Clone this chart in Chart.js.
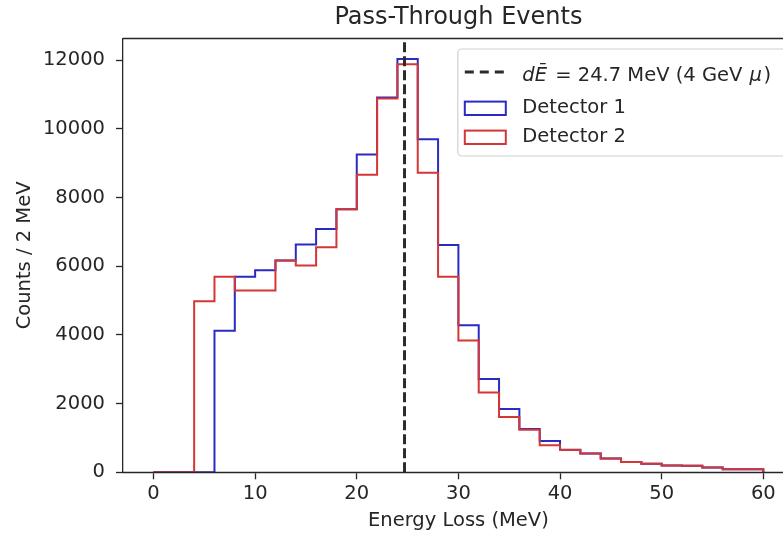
<!DOCTYPE html>
<html>
<head>
<meta charset="utf-8">
<script src="https://cdn.jsdelivr.net/npm/chart.js@4.4.0/dist/chart.umd.min.js"></script>
<style>
  html, body { margin: 0; padding: 0; background: #fff; overflow: hidden; }
  #wrap { width: 800px; height: 536px; }
</style>
</head>
<body>
<div id="wrap"><canvas id="passChart" width="800" height="536"></canvas></div>
<script>
// histogram bins (left edge, MeV), 2 MeV wide
const binLeft = [0, 2, 4, 6, 8, 10, 12, 14, 16, 18, 20, 22, 24, 26, 28,
                 30, 32, 34, 36, 38, 40, 42, 44, 46, 48, 50, 52, 54, 56, 58];
const binWidth = 2;

const detector1 = [0, 0, 0, 4120, 5690, 5880, 6170, 6630, 7080, 7660, 9250, 10910, 12030, 9700, 6620,
                   4280, 2720, 1840, 1260, 910, 655, 545, 400, 300, 250, 200, 190, 140, 90, 90];
const detector2 = [0, 0, 4980, 5690, 5290, 5290, 6170, 6020, 6550, 7660, 8660, 10880, 11880, 8720, 5690,
                   3840, 2320, 1610, 1240, 790, 650, 545, 400, 300, 250, 200, 190, 140, 90, 90];

const meanLoss = 24.7;
const seriesLabels = ["Detector 1", "Detector 2"];
const seriesColors = ["#2a2ac4", "#d43636"];

const xTicks = [0, 10, 20, 30, 40, 50, 60];
const yTicks = [0, 2000, 4000, 6000, 8000, 10000, 12000];
const xRange = [-3, 63];
const yRange = [0, 12630];

const textColor = "#262626";
const fontFamily = "'DejaVu Sans', sans-serif";
const fontSize = 19.5;

// turn bin values into step outline points (like histtype='step')
function stepPoints(values) {
  const last = values.length - 1;
  const pts = [{ x: binLeft[0], y: 0 }];
  values.forEach((v, i) => pts.push({ x: binLeft[i], y: v }));
  pts.push({ x: binLeft[last] + binWidth, y: values[last] });
  pts.push({ x: binLeft[last] + binWidth, y: 0 });
  return pts;
}

// spines: top/right before data, bottom again on top of the data
const framePlugin = {
  id: "frame",
  beforeDatasetsDraw(chart) {
    const { ctx, chartArea: a } = chart;
    ctx.save();
    ctx.strokeStyle = textColor;
    ctx.lineWidth = 1.3;
    ctx.beginPath();
    ctx.moveTo(a.left, a.top);
    ctx.lineTo(a.right, a.top);
    ctx.lineTo(a.right, a.bottom);
    ctx.stroke();
    ctx.restore();
  },
  afterDatasetsDraw(chart) {
    const { ctx, chartArea: a } = chart;
    ctx.save();
    ctx.strokeStyle = textColor;
    ctx.lineWidth = 1.3;
    ctx.beginPath();
    ctx.moveTo(a.left, a.bottom);
    ctx.lineTo(a.right, a.bottom);
    ctx.stroke();
    ctx.restore();
  }
};

// matplotlib style legend box in the upper right corner
const boxLegend = {
  id: "boxLegend",
  afterDraw(chart) {
    const { ctx, chartArea: a } = chart;
    const w = 331, h = 107;
    const right = a.right - 5;
    const left = right - w;
    const top = a.top + 10.5;

    ctx.save();
    ctx.beginPath();
    ctx.roundRect(left, top, w, h, 4);
    ctx.fillStyle = "rgba(255,255,255,0.85)";
    ctx.fill();
    ctx.strokeStyle = "#d0d0d0";
    ctx.lineWidth = 1.2;
    ctx.stroke();

    const hx = left + 7, hw = 41;
    const tx = left + 64.5;

    // dashed line entry
    let y = top + 23;
    ctx.strokeStyle = "#2b2b2b";
    ctx.lineWidth = 3;
    ctx.setLineDash([9, 6]);
    ctx.beginPath();
    ctx.moveTo(hx, y);
    ctx.lineTo(hx + hw, y);
    ctx.stroke();
    ctx.setLineDash([]);

    ctx.fillStyle = textColor;
    ctx.textBaseline = "middle";
    ctx.textAlign = "left";
    const parts = [
      ["italic", "dĒ", 2],
      ["normal", " = " + meanLoss + " MeV (4 GeV ", 1],
      ["italic", "μ", 1.5],
      ["normal", ")", 0]
    ];
    let cx = tx;
    parts.forEach(([style, str, gap]) => {
      ctx.font = style + " " + fontSize + "px " + fontFamily;
      ctx.fillText(str, cx, y + 4);
      cx += ctx.measureText(str).width + gap;
    });

    // detector entries
    ctx.font = fontSize + "px " + fontFamily;
    const rows = [top + 59.3, top + 88.3];
    rows.forEach((ry, i) => {
      ctx.strokeStyle = seriesColors[i];
      ctx.lineWidth = 2;
      ctx.strokeRect(hx, ry - 6.7, hw, 13.4);
      ctx.fillStyle = textColor;
      ctx.fillText(seriesLabels[i], tx, ry);
    });
    ctx.restore();
  }
};

const ctx = document.getElementById("passChart");

new Chart(ctx, {
  type: "line",
  data: {
    datasets: [
      {
        label: "mean dE",
        data: [{ x: meanLoss, y: yRange[0] }, { x: meanLoss, y: yRange[1] }],
        borderColor: "#2b2b2b",
        borderWidth: 3,
        borderDash: [10, 4],
        pointRadius: 0,
        fill: false,
        order: 0
      },
      {
        label: seriesLabels[0],
        data: stepPoints(detector1),
        borderColor: seriesColors[0],
        borderWidth: 2,
        stepped: true,
        pointRadius: 0,
        fill: false,
        order: 2
      },
      {
        label: seriesLabels[1],
        data: stepPoints(detector2),
        borderColor: seriesColors[1],
        borderWidth: 2,
        stepped: true,
        pointRadius: 0,
        fill: false,
        order: 1
      }
    ]
  },
  options: {
    responsive: false,
    animation: false,
    layout: { padding: { left: 0, right: 6.2, top: 0, bottom: 0 } },
    scales: {
      x: {
        type: "linear",
        min: xRange[0],
        max: xRange[1],
        afterBuildTicks: (scale) => { scale.ticks = xTicks.map(v => ({ value: v })); },
        afterFit: (scale) => { scale.height = 63.7; },
        ticks: {
          color: textColor,
          font: { family: fontFamily, size: fontSize },
          padding: 3,
          maxRotation: 0
        },
        grid: { drawOnChartArea: false, drawTicks: true, tickLength: 7, tickColor: textColor, tickWidth: 1.3 },
        border: { display: true, color: textColor, width: 1.3 },
        title: {
          display: true,
          text: "Energy Loss (MeV)",
          color: textColor,
          font: { family: fontFamily, size: fontSize },
          padding: { top: 0, bottom: 3 }
        }
      },
      y: {
        type: "linear",
        min: yRange[0],
        max: yRange[1],
        afterBuildTicks: (scale) => { scale.ticks = yTicks.map(v => ({ value: v })); },
        afterFit: (scale) => { scale.width = 123; },
        ticks: {
          color: textColor,
          font: { family: fontFamily, size: fontSize },
          padding: 11,
          callback: (v) => String(v)
        },
        grid: { drawOnChartArea: false, drawTicks: true, tickLength: 7, tickColor: textColor, tickWidth: 1.3 },
        border: { display: true, color: textColor, width: 1.3 },
        title: {
          display: true,
          text: "Counts / 2 MeV",
          color: textColor,
          font: { family: fontFamily, size: fontSize },
          padding: { top: 13.5, bottom: 0 }
        }
      }
    },
    plugins: {
      legend: { display: false },
      tooltip: { enabled: false },
      title: {
        display: true,
        text: "Pass-Through Events",
        color: textColor,
        fullSize: false,
        font: { family: fontFamily, size: 24, weight: "normal" },
        padding: { top: 3.4, bottom: 6.3 }
      }
    }
  },
  plugins: [framePlugin, boxLegend]
});
</script>
</body>
</html>
